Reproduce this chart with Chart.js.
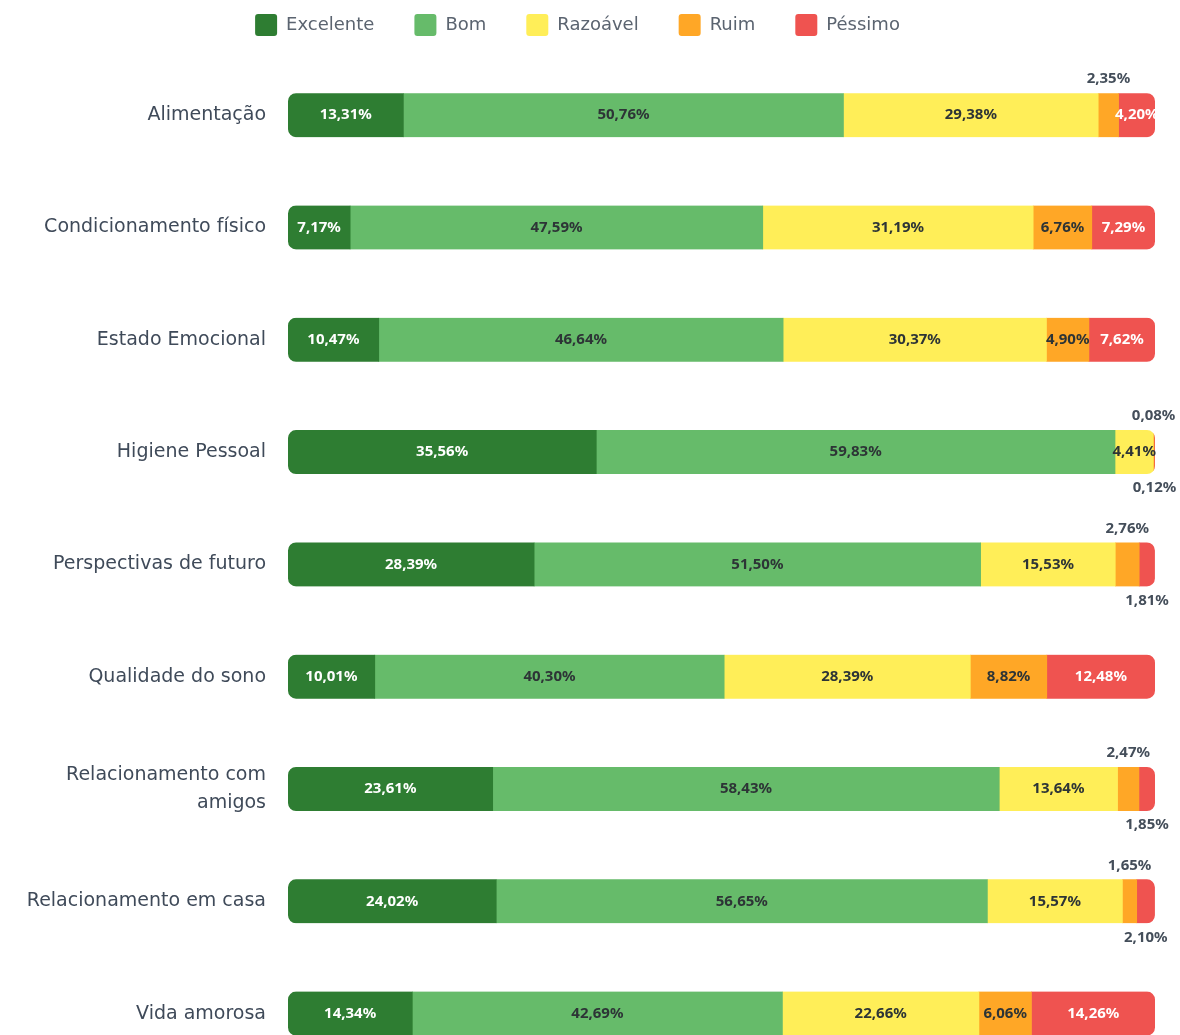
<!DOCTYPE html>
<html>
<head>
<meta charset="utf-8">
<script src="https://cdn.jsdelivr.net/npm/chart.js@4.4.1/dist/chart.umd.min.js"></script>
<style>
  html, body { margin: 0; padding: 0; background: #fff; overflow: hidden; }
</style>
</head>
<body>
<!-- taller than the window: the last row is cut at the bottom like the original -->
<canvas id="myChart" width="1180" height="1106"></canvas>
<script>
var categorias = [
  'Alimentação',
  'Condicionamento físico',
  'Estado Emocional',
  'Higiene Pessoal',
  'Perspectivas de futuro',
  'Qualidade do sono',
  ['Relacionamento com', 'amigos'],
  'Relacionamento em casa',
  'Vida amorosa'
];
var series = ['Excelente', 'Bom', 'Razoável', 'Ruim', 'Péssimo'];

var excelente = [13.31, 7.17, 10.47, 35.56, 28.39, 10.01, 23.61, 24.02, 14.34];
var bom       = [50.76, 47.59, 46.64, 59.83, 51.50, 40.30, 58.43, 56.65, 42.69];
var razoavel  = [29.38, 31.19, 30.37, 4.41, 15.53, 28.39, 13.64, 15.57, 22.66];
var ruim      = [2.35, 6.76, 4.90, 0.08, 2.76, 8.82, 2.47, 1.65, 6.06];
var pessimo   = [4.20, 7.29, 7.62, 0.12, 1.81, 12.48, 1.85, 2.10, 14.26];

var cores = ['#2e7d32', '#66bb6a', '#ffee58', '#ffa726', '#ef5350'];
var corTexto = ['#ffffff', '#2d3436', '#2d3436', '#2d3436', '#ffffff'];
var corFora = '#444e5a';
var fonte = "'DejaVu Sans', sans-serif";
var fonteRotulo = "'Noto Sans', sans-serif";

Chart.defaults.font.family = fonte;

// clip the stacked row into one rounded bar, then write the % labels
var barras = {
  id: 'barras',
  beforeDatasetsDraw: function(chart) {
    var ctx = chart.ctx;
    var x = chart.scales.x;
    var meta = chart.getDatasetMeta(0);
    ctx.save();
    ctx.beginPath();
    meta.data.forEach(function(bar, i) {
      var total = 0;
      chart.data.datasets.forEach(function(ds) { total += ds.data[i]; });
      var x0 = x.getPixelForValue(0);
      var x1 = x.getPixelForValue(Math.min(total, 100));
      ctx.roundRect(x0, bar.y - bar.height / 2, x1 - x0, bar.height, 8);
    });
    ctx.clip();
  },
  afterDatasetsDraw: function(chart) {
    var ctx = chart.ctx;
    ctx.restore();
    ctx.save();
    ctx.font = 'bold 15px ' + fonteRotulo;
    ctx.textAlign = 'center';
    ctx.textBaseline = 'middle';
    chart.data.datasets.forEach(function(ds, di) {
      var meta = chart.getDatasetMeta(di);
      meta.data.forEach(function(bar, i) {
        var v = ds.data[i];
        var txt = v.toFixed(2).replace('.', ',') + '%';
        var cx = (bar.x + bar.base) / 2;
        var cy = bar.y;
        if (v < 3) {
          // tiny slices: Ruim above the bar, Péssimo below
          ctx.fillStyle = corFora;
          cy = di === 3 ? bar.y - bar.height / 2 - 14 : bar.y + bar.height / 2 + 14;
        } else {
          ctx.fillStyle = corTexto[di];
        }
        ctx.fillText(txt, cx, cy);
      });
    });
    ctx.restore();
  }
};

var valores = [excelente, bom, razoavel, ruim, pessimo];
var datasets = series.map(function(nome, i) {
  return {
    label: nome,
    data: valores[i],
    backgroundColor: cores[i],
    borderWidth: 0,
    barThickness: 44
  };
});

const ctx = document.getElementById('myChart');
new Chart(ctx, {
  type: 'bar',
  data: { labels: categorias, datasets: datasets },
  plugins: [barras],
  options: {
    indexAxis: 'y',
    responsive: false,
    animation: false,
    layout: { padding: { top: -26, right: 25, left: 0, bottom: 0 } },
    plugins: {
      tooltip: { enabled: false },
      legend: {
        position: 'top',
        labels: {
          boxWidth: 22,
          boxHeight: 22,
          useBorderRadius: true,
          borderRadius: 3,
          padding: 40,
          color: '#5b6470',
          font: { size: 18 }
        }
      }
    },
    scales: {
      x: {
        position: 'top',
        stacked: true,
        min: 0,
        max: 100,
        grid: { display: false, drawTicks: true, tickLength: 13 },
        border: { display: false },
        ticks: { display: false }
      },
      y: {
        stacked: true,
        grid: { display: false, drawTicks: false },
        border: { display: false },
        ticks: {
          color: '#3f4a59',
          padding: 22,
          font: { size: 19, lineHeight: 1.5 }
        },
        afterFit: function(s) { s.width = 288; }
      }
    }
  }
});
</script>
</body>
</html>
